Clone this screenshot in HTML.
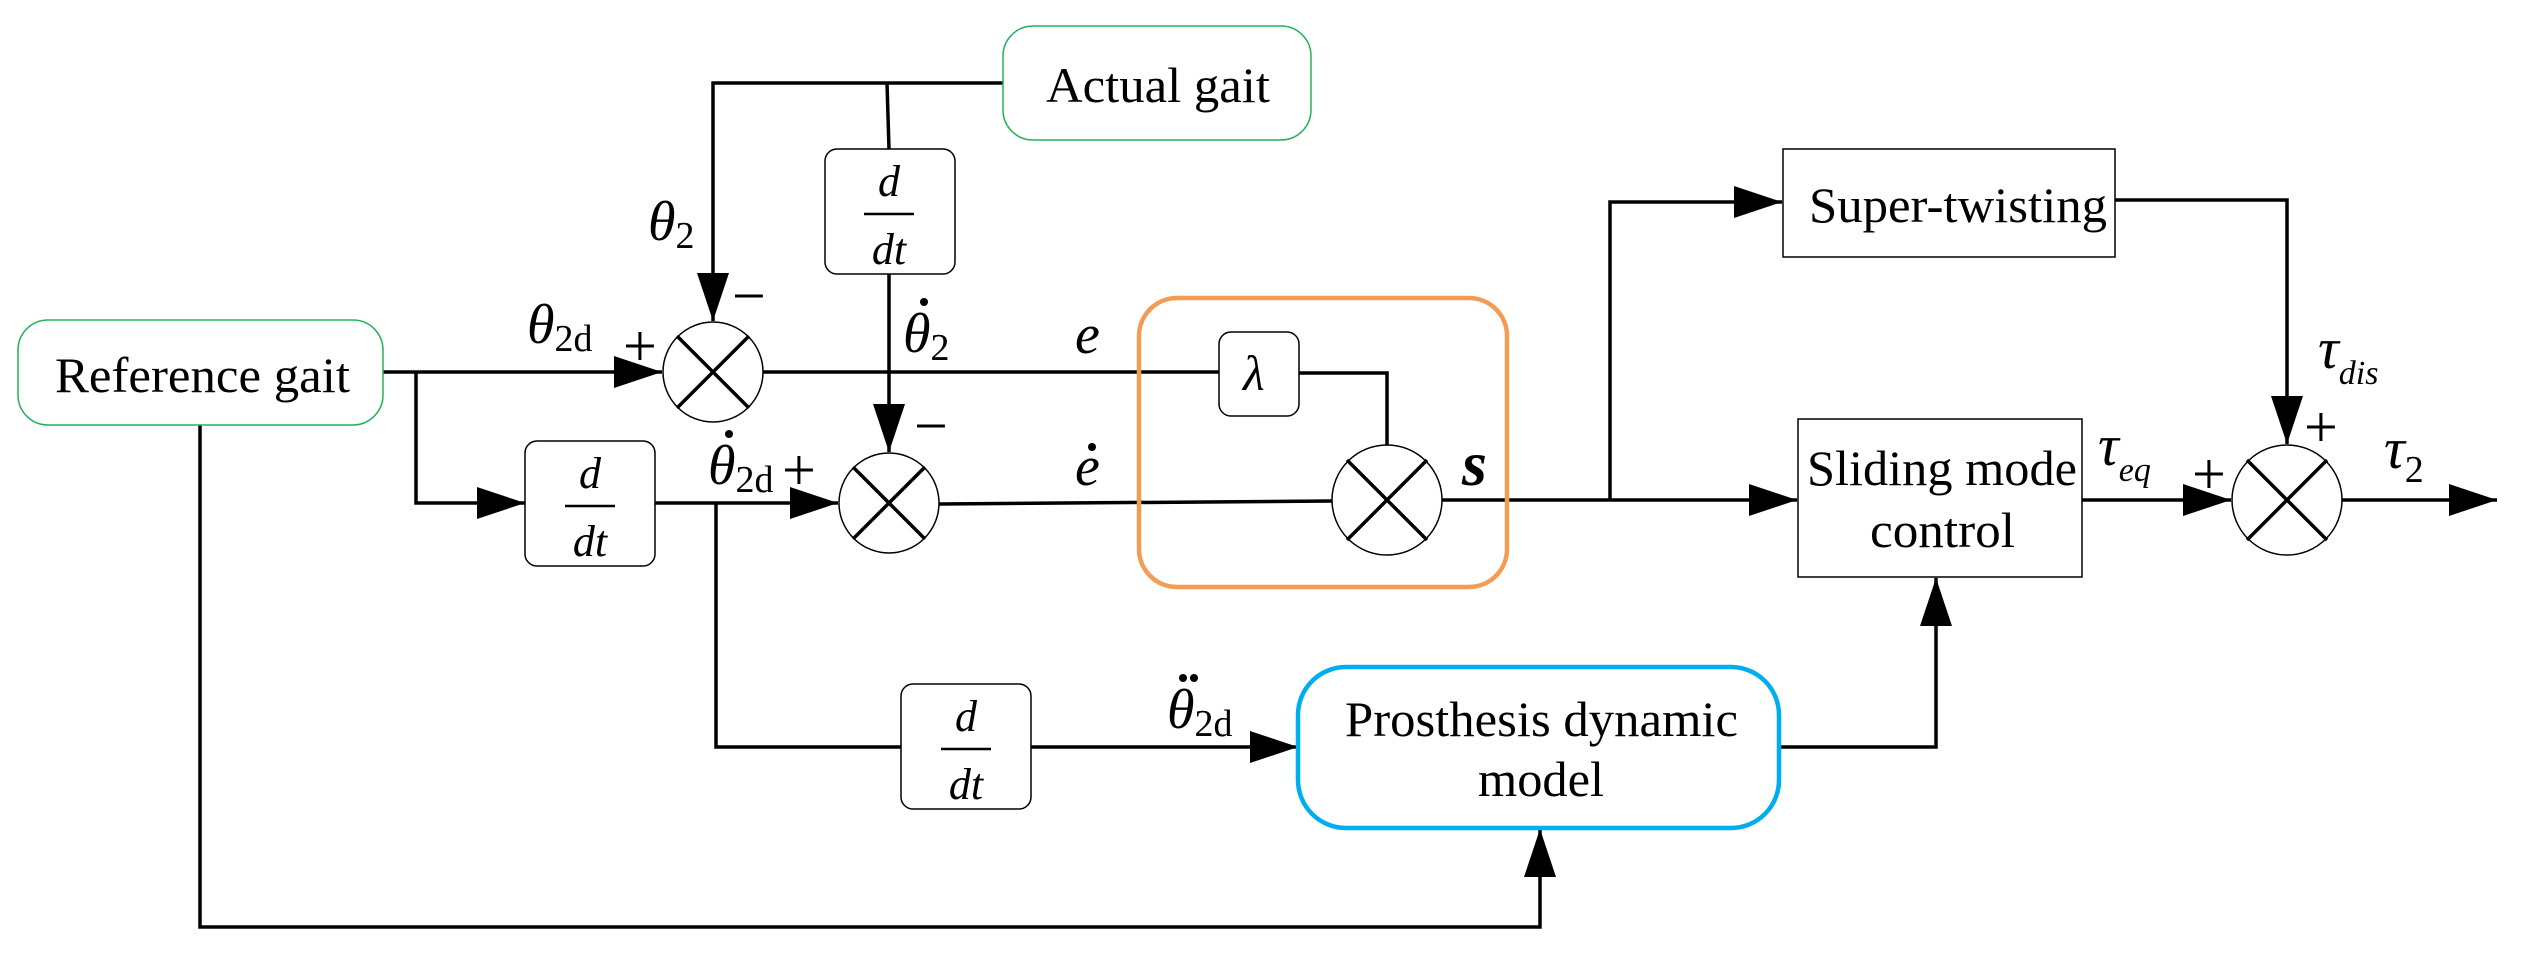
<!DOCTYPE html>
<html><head><meta charset="utf-8"><style>
html,body{margin:0;padding:0;background:#fff;}
svg{display:block;}
text{font-family:"Liberation Serif",serif;fill:#000;}
.it{font-style:italic;}
</style></head><body>
<svg width="2524" height="960" viewBox="0 0 2524 960" xmlns="http://www.w3.org/2000/svg">
<defs>
<marker id="a" markerWidth="48" markerHeight="32" refX="48" refY="16" orient="auto" markerUnits="userSpaceOnUse">
<path d="M0,0 L48,16 L0,32 Z" fill="#000"/>
</marker>
</defs>
<g fill="none" stroke="#000" stroke-width="3.5">
<path d="M383,372 H662" marker-end="url(#a)"/>
<path d="M1003,83 H713 V321" marker-end="url(#a)"/>
<path d="M887,83 L889,149"/>
<path d="M889,274 V452" marker-end="url(#a)"/>
<path d="M416,372 V503 H525" marker-end="url(#a)"/>
<path d="M655,503 H838" marker-end="url(#a)"/>
<path d="M716,503 V747 H901"/>
<path d="M1031,747 H1298" marker-end="url(#a)"/>
<path d="M763,372 H1219"/>
<path d="M1299,373 H1387 V445"/>
<path d="M939,504 L1332,501"/>
<path d="M1442,500 H1797" marker-end="url(#a)"/>
<path d="M1610,500 V202 H1782" marker-end="url(#a)"/>
<path d="M2115,200 H2287 V444" marker-end="url(#a)"/>
<path d="M2082,500 H2231" marker-end="url(#a)"/>
<path d="M2342,500 H2497" marker-end="url(#a)"/>
<path d="M200,425 V927 H1540 V829" marker-end="url(#a)"/>
<path d="M1779,747 H1936 V578" marker-end="url(#a)"/>
</g>
<g fill="#fff">
<rect x="18" y="320" width="365" height="105" rx="30" stroke="#22b35a" stroke-width="1.5"/>
<rect x="1003" y="26" width="308" height="114" rx="30" stroke="#22b35a" stroke-width="1.5"/>
<rect x="825" y="149" width="130" height="125" rx="12" stroke="#000" stroke-width="1.5"/>
<rect x="525" y="441" width="130" height="125" rx="12" stroke="#000" stroke-width="1.5"/>
<rect x="901" y="684" width="130" height="125" rx="12" stroke="#000" stroke-width="1.5"/>
<rect x="1219" y="332" width="80" height="84" rx="12" stroke="#000" stroke-width="1.5"/>
<rect x="1783" y="149" width="332" height="108" stroke="#000" stroke-width="1.5"/>
<rect x="1798" y="419" width="284" height="158" stroke="#000" stroke-width="1.5"/>
<rect x="1298" y="667" width="481" height="161" rx="48" stroke="#00aeef" stroke-width="4.5"/>
</g>
<rect x="1139" y="298" width="368" height="289" rx="38" fill="none" stroke="#f39c55" stroke-width="4.5"/>
<g stroke="#000">
<circle cx="713" cy="372" r="50" fill="#fff" stroke-width="1.5"/>
<path d="M677,336 L749,408 M749,336 L677,408" stroke-width="3.5"/>
<circle cx="889" cy="503" r="50" fill="#fff" stroke-width="1.5"/>
<path d="M853,467 L925,539 M925,467 L853,539" stroke-width="3.5"/>
<circle cx="1387" cy="500" r="55" fill="#fff" stroke-width="1.5"/>
<path d="M1347,460 L1427,540 M1427,460 L1347,540" stroke-width="3.5"/>
<circle cx="2287" cy="500" r="55" fill="#fff" stroke-width="1.5"/>
<path d="M2247,460 L2327,540 M2327,460 L2247,540" stroke-width="3.5"/>
</g>
<g font-size="44" class="it" text-anchor="middle">
<text x="889" y="196" class="it">d</text><line x1="864" y1="214" x2="914" y2="214" stroke="#000" stroke-width="2.5"/><text x="889" y="264" class="it">dt</text>
<text x="590" y="488" class="it">d</text><line x1="565" y1="506" x2="615" y2="506" stroke="#000" stroke-width="2.5"/><text x="590" y="556" class="it">dt</text>
<text x="966" y="731" class="it">d</text><line x1="941" y1="749" x2="991" y2="749" stroke="#000" stroke-width="2.5"/><text x="966" y="799" class="it">dt</text>
</g>
<g font-size="50">
<text x="55" y="392" textLength="295" lengthAdjust="spacingAndGlyphs">Reference gait</text>
<text x="1046" y="102" textLength="224" lengthAdjust="spacingAndGlyphs">Actual gait</text>
<text x="1809" y="222" textLength="298" lengthAdjust="spacingAndGlyphs">Super-twisting</text>
<text x="1807" y="485" textLength="270" lengthAdjust="spacingAndGlyphs">Sliding mode</text>
<text x="1870" y="547" textLength="145" lengthAdjust="spacingAndGlyphs">control</text>
<text x="1345" y="736" textLength="393" lengthAdjust="spacingAndGlyphs">Prosthesis dynamic</text>
<text x="1478" y="796" textLength="126" lengthAdjust="spacingAndGlyphs">model</text>
</g>
<g font-size="56">
<text x="648" y="240" class="it">θ<tspan font-size="38" font-style="normal" dy="8">2</tspan></text>
<text x="527" y="343" class="it">θ<tspan font-size="38" font-style="normal" dy="8">2d</tspan></text>
<text x="623" y="366" font-size="60">+</text>
<text x="732" y="316" font-size="60">−</text>
<text x="903" y="352" class="it">θ<tspan font-size="38" font-style="normal" dy="8">2</tspan></text>
<text x="1075" y="353" class="it">e</text>
<text x="914" y="446" font-size="60">−</text>
<text x="708" y="484" class="it">θ<tspan font-size="38" font-style="normal" dy="8">2d</tspan></text>
<text x="782" y="490" font-size="60">+</text>
<text x="1075" y="485" class="it">e</text>
<text x="1167" y="728" class="it">θ<tspan font-size="38" font-style="normal" dy="8">2d</tspan></text>
<text x="1462" y="485" font-size="64" font-style="italic" font-weight="bold">s</text>
<text x="1243" y="390" class="it" font-size="50">λ</text>
<text x="2098" y="465" class="it" font-size="58">τ<tspan font-size="34" dy="16">eq</tspan></text>
<text x="2192" y="494" font-size="60">+</text>
<text x="2318" y="368" class="it" font-size="58">τ<tspan font-size="34" dy="16">dis</tspan></text>
<text x="2304" y="447" font-size="60">+</text>
<text x="2384" y="468" class="it" font-size="58">τ<tspan font-size="38" font-style="normal" dy="14">2</tspan></text>
</g>
<g fill="#000">
<circle cx="924" cy="302" r="4"/>
<circle cx="729" cy="434" r="4"/>
<circle cx="1092" cy="447" r="4"/>
<circle cx="1183" cy="678" r="4"/>
<circle cx="1194" cy="678" r="4"/>
</g>
</svg>
</body></html>
